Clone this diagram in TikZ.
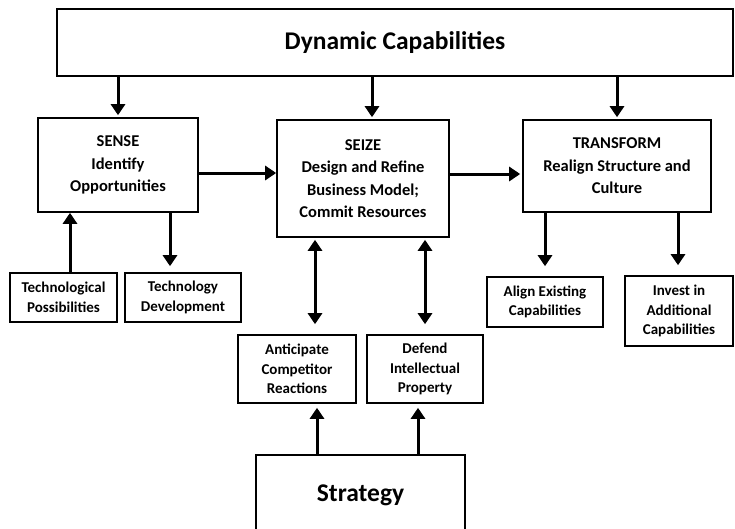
\documentclass[tikz,border=0pt]{standalone}
\usepackage{fontspec}
\setmainfont{Carlito}
\usetikzlibrary{arrows.meta}
\begin{document}
\begin{tikzpicture}[x=1pt,y=-1pt,
  box/.style={draw, line width=1.6pt, fill=white, inner sep=0pt, align=center, font=\bfseries\fontsize{16.5}{22.5}\selectfont},
  small/.style={box, font=\bfseries\fontsize{15}{19.5}\selectfont},
  big/.style={box, font=\bfseries\fontsize{25.5}{28}\selectfont},
  arr/.style={line width=3pt, -{Triangle[width=14pt,length=11pt]}},
  darr/.style={line width=3pt, {Triangle[width=14pt,length=11pt]}-{Triangle[width=14pt,length=11pt]}}]
\useasboundingbox (0,0) rectangle (735,528);
\begin{scope}
\clip (0,0) rectangle (735,528);
\node[big, minimum width=676pt, minimum height=67pt] (dc) at (395,42.5) {Dynamic Capabilities};
\node[box, minimum width=160pt, minimum height=94pt] (sense) at (118,165) {SENSE\\Identify\\Opportunities};
\node[box, minimum width=172pt, minimum height=117pt] (seize) at (363,178.5) {SEIZE\\Design and Refine\\Business Model;\\Commit Resources};
\node[box, minimum width=188pt, minimum height=92pt] (transform) at (617,166) {TRANSFORM\\Realign Structure and\\Culture};
\node[small, minimum width=107pt, minimum height=49pt] (techposs) at (63.5,297.5) {Technological\\Possibilities};
\node[small, minimum width=116pt, minimum height=49pt] (techdev) at (183,297.5) {Technology\\Development};
\node[small, minimum width=116pt, minimum height=50pt] (align) at (545,302) {Align Existing\\Capabilities};
\node[small, minimum width=108pt, minimum height=70pt] (invest) at (679,311) {Invest in\\Additional\\Capabilities};
\node[small, minimum width=118pt, minimum height=68pt] (anticip) at (297,369) {Anticipate\\Competitor\\Reactions};
\node[small, minimum width=116pt, minimum height=68pt] (defend) at (425,369) {Defend\\Intellectual\\Property};
\node[big, minimum width=209pt, minimum height=80pt] (strategy) at (360.5,495) {Strategy};

\draw[arr, shorten >=2pt] (dc.south -| sense.north) -- (sense.north);
\draw[arr, shorten >=2pt] ([xshift=9pt]seize.north |- dc.south) -- ([xshift=9pt]seize.north);
\draw[arr, shorten >=2pt] (dc.south -| transform.north) -- (transform.north);
\draw[arr] ([yshift=-8pt]sense.east) -- ([yshift=-8pt]sense.east -| seize.west);
\draw[arr, shorten >=2pt] ([yshift=4.5pt]seize.east) -- ([yshift=4.5pt]seize.east -| transform.west);
\draw[arr] ([xshift=6.5pt]techposs.north) -- ([xshift=6.5pt]techposs.north |- sense.south);
\draw[arr, shorten >=6pt] ([xshift=-13pt]techdev.north |- sense.south) -- ([xshift=-13pt]techdev.north);
\draw[arr, shorten >=10pt] (align.north |- transform.south) -- (align.north);
\draw[arr, shorten >=10pt] ([xshift=-1pt]invest.north |- transform.south) -- ([xshift=-1pt]invest.north);
\draw[darr, shorten <=2pt, shorten >=10pt] ([xshift=18pt]anticip.north |- seize.south) -- ([xshift=18pt]anticip.north);
\draw[darr, shorten <=2pt, shorten >=10pt] (defend.north |- seize.south) -- (defend.north);
\draw[arr, shorten >=4pt] ([xshift=20pt]anticip.south |- strategy.north) -- ([xshift=20pt]anticip.south);
\draw[arr, shorten >=4pt] ([xshift=-7pt]defend.south |- strategy.north) -- ([xshift=-7pt]defend.south);
\end{scope}
\end{tikzpicture}
\end{document}
